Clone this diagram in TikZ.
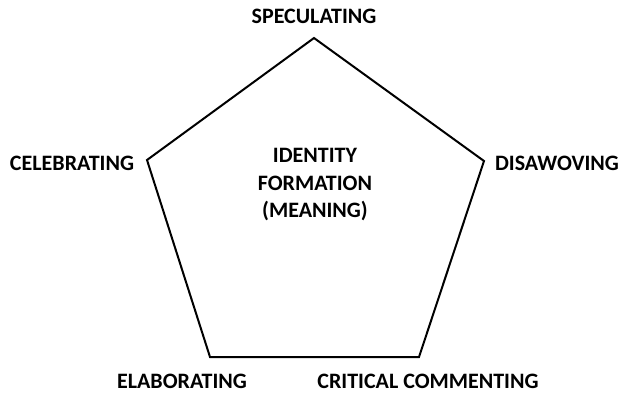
\documentclass[tikz,border=0pt]{standalone}
\usepackage{fontspec}
\setmainfont{Carlito}
\usepackage{tikz}

\begin{document}
\begin{tikzpicture}[x=1pt,y=-1pt,
	lbl/.style={font=\fontsize{22}{26}\selectfont\bfseries},
	side/.style={line width=2pt,line join=miter}]
	\useasboundingbox (0,0) rectangle (620,394);
	\coordinate (top) at (314,38);
	\coordinate (rgt) at (484,161);
	\coordinate (brt) at (419,357);
	\coordinate (blf) at (210,357);
	\coordinate (lft) at (147,160);
	\path[side,draw] (top) -- (rgt) -- (brt) -- (blf) -- (lft) -- cycle;
	\node[lbl] at (314,16) (spec) {SPECULATING};
	\node[lbl] at (72,163) (celeb) {CELEBRATING};
	\node[lbl] at (557,163) (disaw) {DISAWOVING};
	\node[lbl] at (182,381) (elab) {ELABORATING};
	\node[lbl] at (428,381) (crit) {CRITICAL COMMENTING};
	\node[lbl,align=center,font=\fontsize{22}{27.5}\selectfont\bfseries] at (315,185) (ident) {IDENTITY\\FORMATION\\(MEANING)};
\end{tikzpicture}
\end{document}
